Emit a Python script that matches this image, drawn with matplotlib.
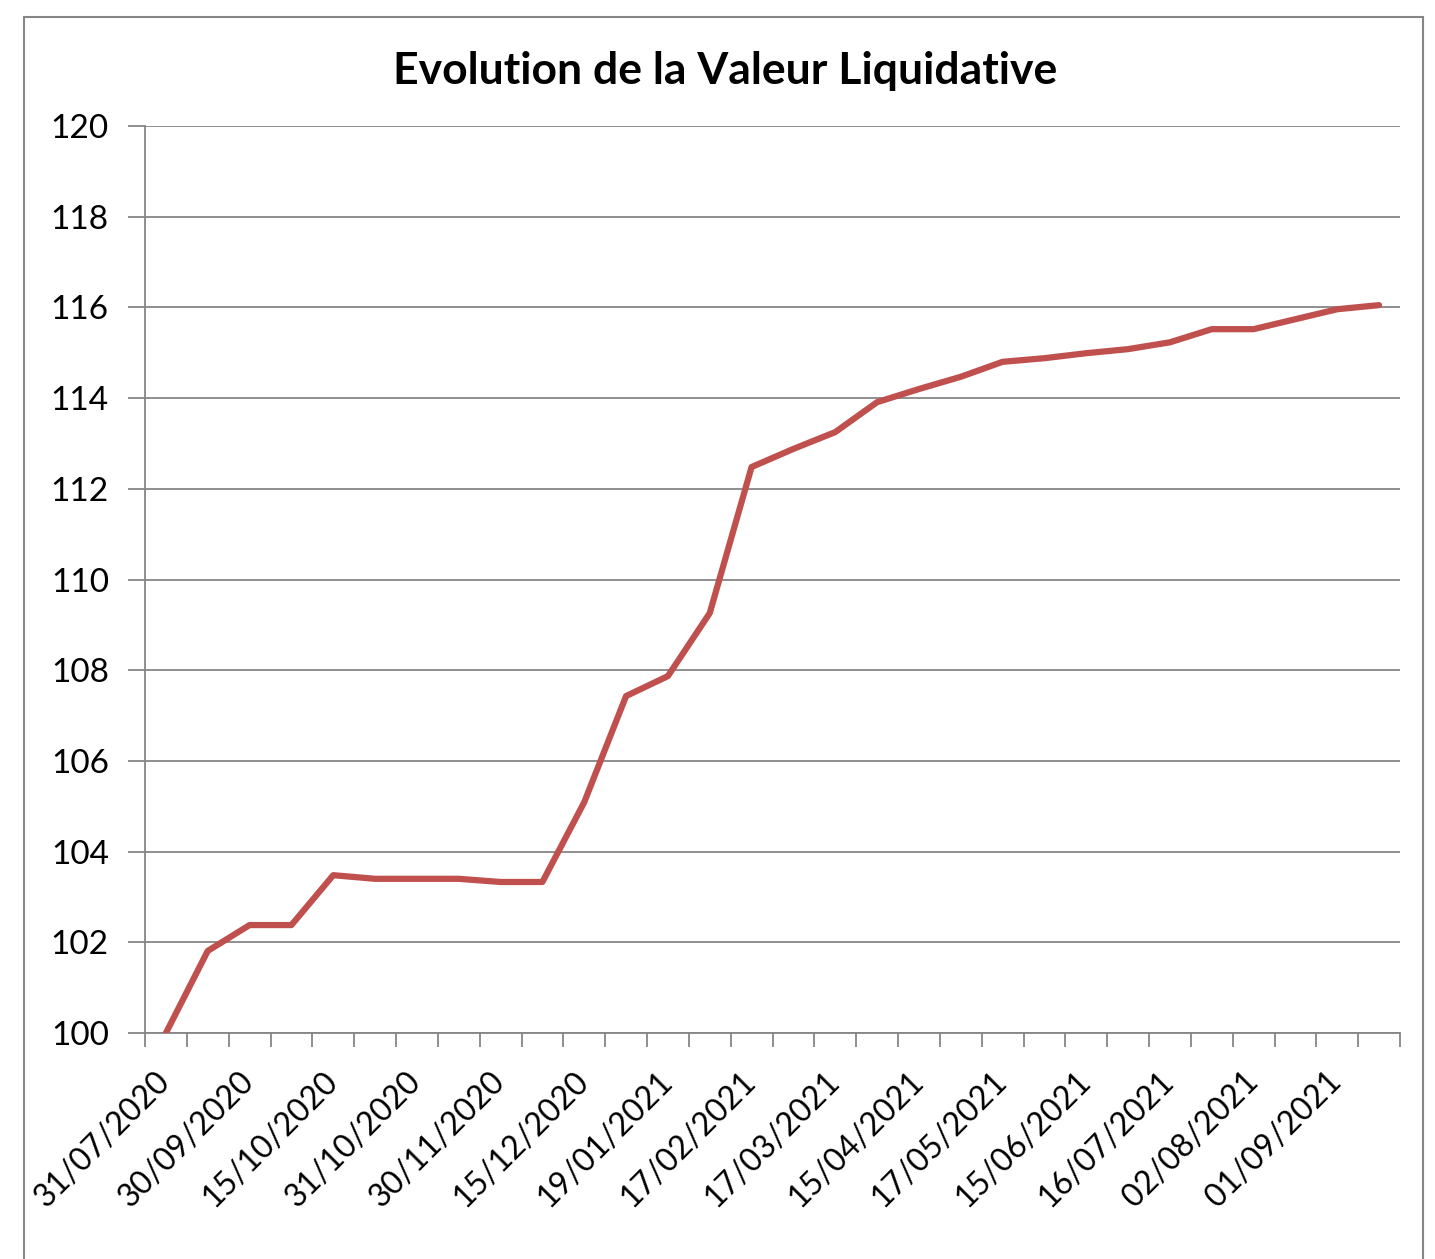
import matplotlib
matplotlib.use("Agg")
import matplotlib.pyplot as plt
from matplotlib.patches import Rectangle
from matplotlib.transforms import ScaledTranslation
import numpy as np

plt.rcParams['font.family'] = ['Lato', 'DejaVu Sans']

title = "Evolution de la Valeur Liquidative"
values = [100.00, 101.81, 102.38, 102.38, 103.48, 103.40, 103.40, 103.40, 103.33, 103.33,
          105.09, 107.43, 107.87, 109.26, 112.48, 112.88, 113.25, 113.91, 114.20, 114.47,
          114.80, 114.88, 114.99, 115.08, 115.23, 115.52, 115.52, 115.74, 115.96, 116.05]
tick_labels = ["31/07/2020", "30/09/2020", "15/10/2020", "31/10/2020", "30/11/2020",
               "15/12/2020", "19/01/2021", "17/02/2021", "17/03/2021", "15/04/2021",
               "17/05/2021", "15/06/2021", "16/07/2021", "02/08/2021", "01/09/2021"]
y_ticks = [100, 102, 104, 106, 108, 110, 112, 114, 116, 118, 120]

W, H = 1435, 1259
fig = plt.figure(figsize=(W / 100, H / 100), dpi=100)
ax = fig.add_axes([145 / W, 1 - 1033 / H, (1400 - 145) / W, (1033 - 126) / H])

n = len(values)
x = np.arange(n)
ax.plot(x, values, color="#C0504D", lw=4.5, solid_capstyle="round", solid_joinstyle="round", zorder=3)

ax.set_xlim(-0.5, n - 0.5)
ax.set_ylim(100, 120)
ax.set_yticks(y_ticks)
ax.set_yticklabels([str(v) for v in y_ticks], fontsize=24)
ax.grid(axis="y", color="#868686", lw=1.3)
ax.set_axisbelow(True)

ax.set_xticks(np.arange(-0.5, n, 1.0))
ax.set_xticklabels([])
ax.set_xticks(np.arange(0, n, 2), minor=True)
ax.set_xticklabels(tick_labels, minor=True, rotation=45, ha="right", va="top",
                   rotation_mode="anchor", fontsize=23)
ax.tick_params(axis="x", which="major", length=10, width=1.3, color="#868686")
ax.tick_params(axis="x", which="minor", length=0, pad=18)
ax.tick_params(axis="y", length=12, width=1.3, color="#868686", pad=14)

off = ScaledTranslation(-11 / 100, -8 / 100, fig.dpi_scale_trans)
for lab in ax.get_xticklabels(minor=True):
    lab.set_transform(lab.get_transform() + off)

for s in ["top", "right"]:
    ax.spines[s].set_visible(False)
for s in ["left", "bottom"]:
    ax.spines[s].set_color("#868686")
    ax.spines[s].set_linewidth(1.3)

fig.text(725 / W, 1 - 71 / H, title, ha="center", va="center", fontsize=32, fontweight="bold")

fig.patches.append(Rectangle((24 / W, -0.05), (1423 - 24) / W, 1 - 17 / H + 0.05,
                             transform=fig.transFigure, fill=False, edgecolor="#868686", lw=1.5))

fig.savefig("out.png", dpi=100)
